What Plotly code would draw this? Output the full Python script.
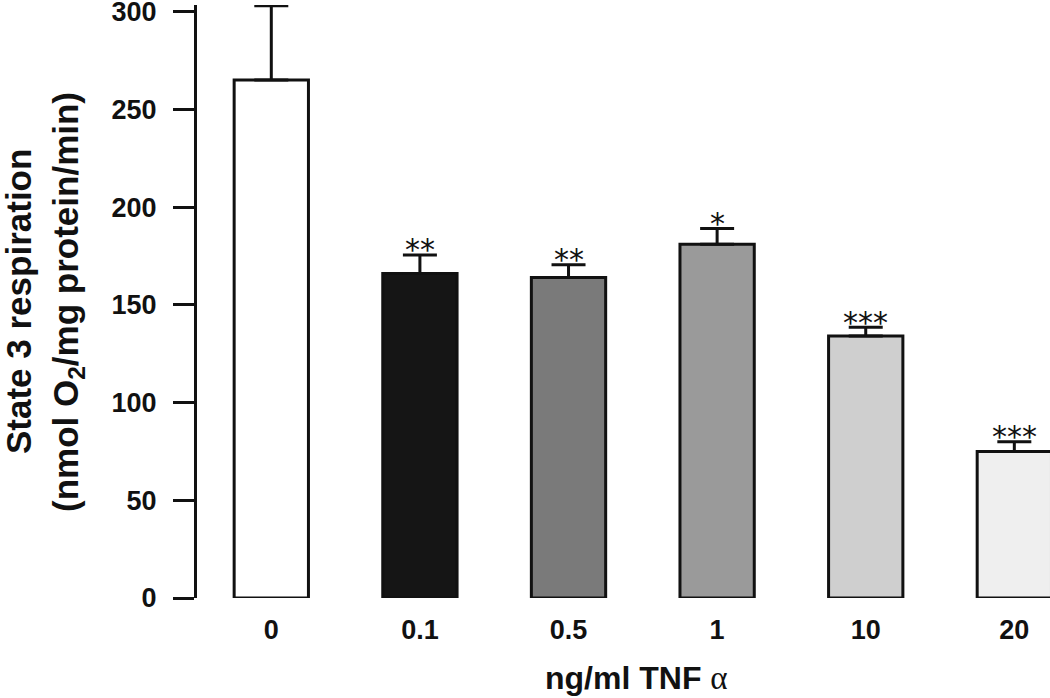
import plotly.graph_objects as go

categories = ["0", "0.1", "0.5", "1", "10", "20"]
values = [265, 166, 164, 181, 134, 75]
errors = [38, 9.5, 6.5, 8, 4.5, 5]
stars = ["", "**", "**", "*", "***", "***"]
colors = ["#ffffff", "#151515", "#7a7a7a", "#9a9a9a", "#cfcfcf", "#efefef"]
y_ticks = [0, 50, 100, 150, 200, 250, 300]

W, H = 1050, 698
L, R, T, B = 197, 0, 5, 100
PW, PH = W - L - R, H - T - B


def px_x(px):
    return (px - L) / PW


def px_y(py):
    return (H - B - py) / PH


fig = go.Figure()
fig.add_trace(go.Bar(
    x=categories, y=values,
    marker=dict(color=colors, line=dict(color="#111111", width=3)),
    width=0.5,
    error_y=dict(type="data", array=errors, arrayminus=[0]*len(errors), symmetric=False,
                 color="#111111", thickness=3, width=17),
    cliponaxis=False,
    showlegend=False,
    hoverinfo="skip",
))

for i, (v, e, s) in enumerate(zip(values, errors, stars)):
    if s:
        fig.add_annotation(x=i, y=v + e, xref="x", yref="y", text=s, showarrow=False,
                           yanchor="middle", yshift=5,
                           font=dict(family="DejaVu Sans", size=30, color="#111111"))

# axis titles
fig.add_annotation(x=px_x(18), y=px_y(302), xref="paper", yref="paper", text="<b>State 3 respiration</b>",
                   textangle=-90, showarrow=False, xanchor="center", yanchor="middle",
                   font=dict(family="Liberation Sans", size=35, color="#111111"))
fig.add_annotation(x=px_x(68), y=px_y(302), xref="paper", yref="paper",
                   text="<b>(nmol O<sub>2</sub>/mg protein/min)</b>",
                   textangle=-90, showarrow=False, xanchor="center", yanchor="middle",
                   font=dict(family="Liberation Sans", size=35, color="#111111"))
fig.add_annotation(x=px_x(636), y=px_y(678), xref="paper", yref="paper",
                   text="<b>ng/ml TNF</b> <span style='font-family:Liberation Serif;font-size:33px'>α</span>",
                   showarrow=False, xanchor="center", yanchor="middle",
                   font=dict(family="Liberation Sans", size=32, color="#111111"))

fig.update_layout(
    width=W, height=H,
    margin=dict(l=L, r=R, t=T, b=B),
    plot_bgcolor="white", paper_bgcolor="white",
    font=dict(family="Liberation Sans", color="#111111"),
)
fig.update_xaxes(
    type="category", range=[-0.5, 5.24], automargin=False,
    showline=False, showgrid=False, zeroline=False, ticks="",
    tickfont=dict(family="Liberation Sans", size=27, weight="bold"),
    ticklabelstandoff=13,
)
fig.update_yaxes(
    range=[0, 303.4], tickvals=y_ticks, automargin=False,
    showline=True, linecolor="#111111", linewidth=3,
    ticks="outside", ticklen=21, tickwidth=3, tickcolor="#111111",
    showgrid=False, zeroline=False,
    tickfont=dict(family="Liberation Sans", size=27, weight="bold"),
    ticklabelstandoff=11, ticklabeloverflow="allow",
)

fig.write_html("out.html", config={"displayModeBar": False},
               post_script="document.body.style.margin='0';")
